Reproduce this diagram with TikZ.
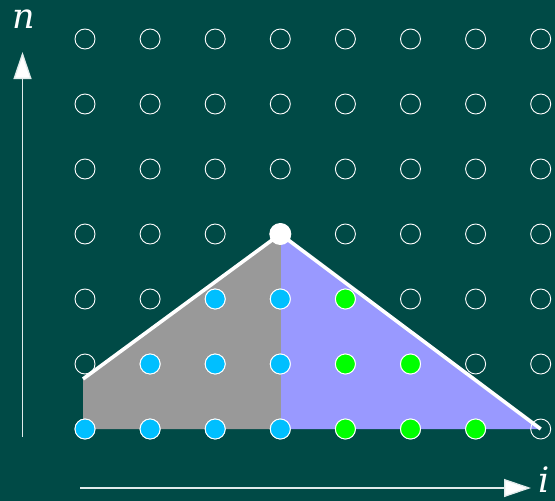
\documentclass[tikz,border=0pt]{standalone}
\usepackage{fontspec}
\newfontfamily\labelfont{DejaVu Serif}
\usetikzlibrary{arrows.meta}
\definecolor{bg}{RGB}{0,74,70}
\definecolor{cblue}{RGB}{0,191,255}
\definecolor{cgreen}{RGB}{0,255,0}
\definecolor{cpurple}{RGB}{153,153,255}
\definecolor{cgray}{RGB}{153,153,153}
\definecolor{axis}{RGB}{225,235,235}
\tikzset{
  pt/.style={circle,draw=white,line width=0.9pt,minimum size=20pt,inner sep=0pt},
  ax/.style={draw=axis,line width=1.3pt,-{Triangle[length=27pt,width=18pt,fill=white]}},
  lbl/.style={text=white,font=\labelfont\itshape\fontsize{35}{37}\selectfont,inner sep=0pt}
}
\begin{document}
\begin{tikzpicture}[x=1pt,y=-1pt]
\fill[bg] (0,0) rectangle (555,501);
\useasboundingbox (0,0) rectangle (555,501);
% regions
\fill[cgray] (83,379) -- (281,235) -- (281,429) -- (83,429) -- cycle;
\fill[cpurple] (281,235) -- (541,429) -- (281,429) -- cycle;
% grid circles
\foreach \i in {0,...,7}{
  \foreach \j in {0,...,6}{
    \node[pt] (p\i-\j) at ({85+65.1*\i},{39+65*\j}) {};
  }
}
% coloured points
\foreach \i/\j in {0/6,1/6,2/6,3/6,1/5,2/5,3/5,2/4,3/4}{
  \node[pt,fill=cblue] at (p\i-\j) {};
}
\foreach \i/\j in {4/6,5/6,6/6,4/5,5/5,4/4}{
  \node[pt,fill=cgreen] at (p\i-\j) {};
}
% boundary line
\coordinate (L) at (83,379);
\draw[white,line width=3.6pt] (L) -- (p3-3.center) -- (p7-6.center);
\node[circle,fill=white,minimum size=22pt,inner sep=0pt] (top) at (p3-3) {};
% axes
\coordinate (v0) at (22.5,437);
\coordinate (v1) at (22.5,52);
\coordinate (h0) at (80,488);
\coordinate (h1) at (531,488);
\draw[ax] (v0) -- (v1);
\draw[ax] (h0) -- (h1);
\node[lbl] (n) at (24,19) {n};
\node[lbl] (i) at (544,480) {i};
\end{tikzpicture}
\end{document}
